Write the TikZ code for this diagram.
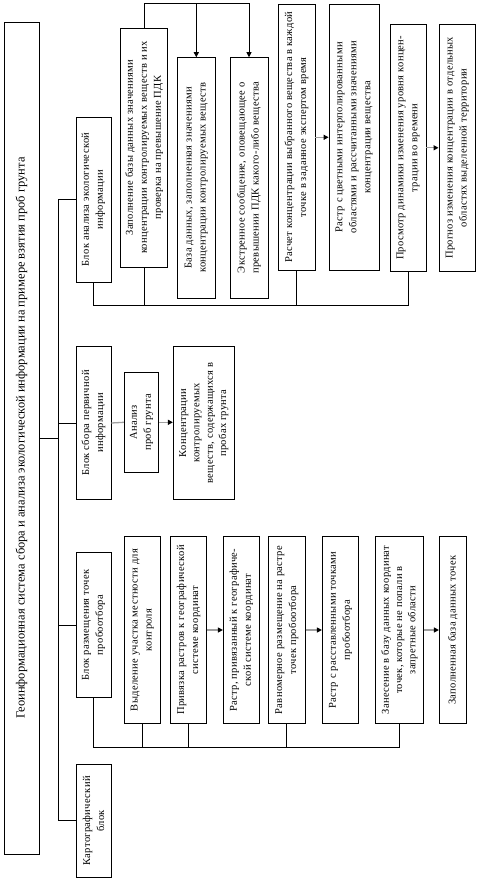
\documentclass[tikz,border=0pt]{standalone}
\usepackage{fontspec}
\setmainfont[LetterSpace=3]{Liberation Serif}
\newfontfamily\titlefont{Liberation Serif}
\usetikzlibrary{arrows.meta}
\begin{document}
\begin{tikzpicture}[x=1pt,y=-1pt,
  box/.style={draw, line width=0.8pt, inner sep=1pt, align=center, rotate=90,
    font=\fontsize{10.5}{14}\selectfont},
  sz/.style n args={2}{minimum width=#1pt, minimum height=#2pt},
  ln/.style={line width=0.8pt},
  arr/.style={line width=0.8pt, -{Triangle[length=5pt,width=5pt]}},
  garr/.style={draw=gray!75, line width=1.3pt, -{Triangle[length=5pt,width=5pt,color=black]}},
  gln/.style={draw=gray!75, line width=1.3pt}]
\useasboundingbox (0,0) rectangle (479,880);

% main title box
\node[box, sz={832}{35}, font=\titlefont\fontsize{12.5}{14}\selectfont] (T) at (21.5,438)
  {Геоинформационная система сбора и анализа экологической информации на примере взятия проб грунта};

% block column
\node[box, sz={165}{35}] (A) at (93.5,199.5) {Блок анализа экологической\\информации};
\node[box, sz={152.6}{35}] (S) at (93.5,423) {Блок сбора первичной\\информации};
\node[box, sz={145.4}{35}] (R) at (93.5,625) {Блок размещения точек\\пробоотбора};
\node[box, sz={113}{35}] (K) at (93.5,820.8) {Картографический\\блок};

% analysis section
\node[box, sz={239}{47}] (Z) at (144.2,147.5) {Заполнение базы данных значениями\\концентрации контролируемых веществ и их\\проверка на превышение ПДК};
\node[box, sz={240.3}{37.3}] (BD) at (196.3,177.8) {База данных, заполненная значениями\\концентрации контролируемых веществ};
\node[box, sz={240.3}{38}] (EX) at (249,177.8) {Экстренное сообщение, оповещающее о\\превышении ПДК какого-либо вещества};
\node[box, sz={265.3}{37}] (RC) at (296.5,137.3) {Расчет концентрации выбранного вещества в каждой\\точке в заданное экспертом время};
\node[box, sz={265.3}{50}] (RR) at (354,137.3) {Растр с цветными интерполированными\\областями и рассчитанными значениями\\концентрации вещества};
\node[box, sz={247.7}{36}] (PD) at (408,147.8) {Просмотр динамики изменения уровня концен-\\трации во времени};
\node[box, sz={247.7}{36.7}] (PG) at (457.3,147.8) {Прогноз изменения концентрации в отдельных\\областях выделенной территории};

% primary collection section
\node[box, sz={100}{34.4}] (AN) at (141.5,422.3) {Анализ\\проб грунта};
\node[box, sz={152.6}{61}, font=\fontsize{10.5}{13.3}\selectfont] (KN) at (203.8,423) {Концентрации\\контролируемых\\веществ, содержащихся в\\пробах грунта};

% sampling points section
\node[box, sz={186.6}{36}] (V) at (142.3,630) {Выделение участка местности для\\контроля};
\node[box, sz={186.6}{36.4}] (P) at (188.5,630) {Привязка растров к географической\\системе координат};
\node[box, sz={186.6}{36}] (RP) at (241.3,630) {Растр, привязанный к географиче-\\ской системе координат};
\node[box, sz={186.6}{37}] (RV) at (286.8,630) {Равномерное размещение на растре\\точек пробоотбора};
\node[box, sz={186.6}{36.4}] (RT) at (340.5,630) {Растр с расставленными точками\\пробоотбора};
\node[box, sz={186.6}{47.6}, font=\fontsize{10.5}{13.3}\selectfont] (ZN) at (399.5,630) {Занесение в базу данных координат\\точек, которые не попали в\\запретные области};
\node[box, sz={186.6}{27.4}] (ZB) at (453,630) {Заполненная база данных точек};

% spine
\coordinate (sp) at (58,0);
\draw[ln] (T.south) -- (T.south -| sp);
\draw[ln] (A.north) -- (A.north -| sp) -- (K.north -| sp) -- (K.north);
\draw[ln] (S.north) -- (S.north -| sp);
\draw[ln] (R.north) -- (R.north -| sp);

% analysis connectors
\coordinate (top) at (0,3.3);
\draw[ln] (Z.east) -- (Z.east |- top) -- (EX.east |- top);
\draw[arr] (BD.east |- top) -- (BD.east);
\draw[arr] (EX.east |- top) -- (EX.east);
\coordinate (bus1) at (0,305.7);
\draw[ln] (A.west) -- (A.west |- bus1) -- (PD.west |- bus1) -- (PD.west);
\draw[ln] (Z.west) -- (Z.west |- bus1);
\draw[ln] (RC.west) -- (RC.west |- bus1);
\draw[garr] (RC.south) -- (RR.north);
\draw[garr] (PD.south) -- (PG.north);

% primary collection connectors
\draw[gln] (S.south) -- (AN.north);
\draw[garr] (AN.south) -- (KN.north |- AN.south);

% sampling connectors
\coordinate (bus2) at (0,747.3);
\draw[ln] (R.west) -- (R.west |- bus2) -- (ZN.west |- bus2) -- (ZN.west);
\draw[ln] (V.west) -- (V.west |- bus2);
\draw[ln] (P.west) -- (P.west |- bus2);
\draw[ln] (RV.west) -- (RV.west |- bus2);
\draw[garr] (P.south) -- (RP.north);
\draw[garr] (RV.south) -- (RT.north);
\draw[garr] (ZN.south) -- (ZB.north);
\end{tikzpicture}
\end{document}
